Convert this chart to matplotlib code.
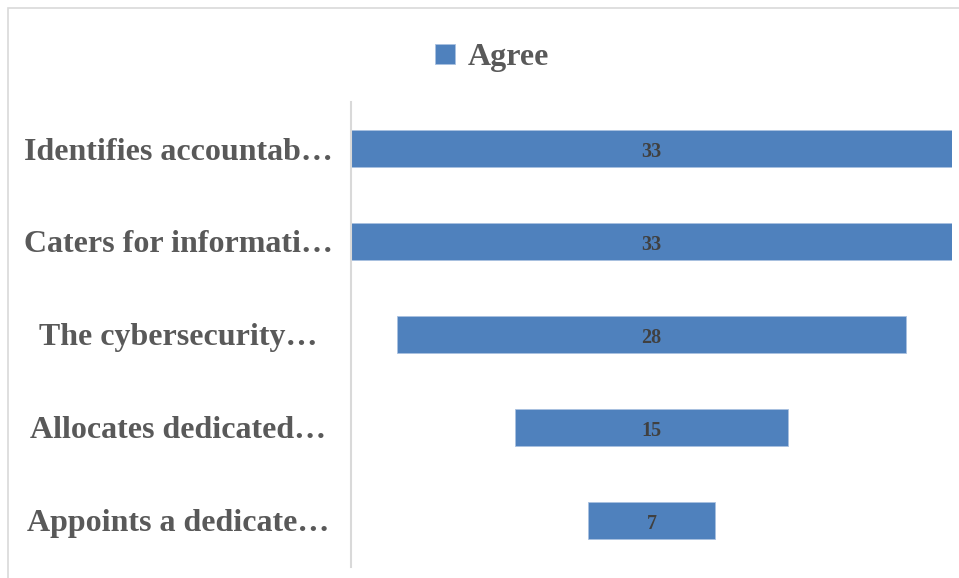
import numpy as np
import matplotlib.pyplot as plt
from matplotlib.patches import Rectangle

categories = [
    'Identifies accountab…',
    'Caters for informati…',
    'The cybersecurity…',
    'Allocates dedicated…',
    'Appoints a dedicate…',
]
agree = [33, 33, 28, 15, 7]
series_name = 'Agree'

plt.rcParams['font.family'] = ['Liberation Serif', 'DejaVu Serif']
plt.rcParams['font.weight'] = 'bold'

fig = plt.figure(figsize=(9.59, 5.78), dpi=100)
ax = fig.add_axes([351 / 959, 1 - 567 / 578, 601 / 959, 465 / 578])

y = np.arange(len(categories))
vmax = max(agree)
lefts = [(vmax - v) / 2 for v in agree]
bars = ax.barh(y, agree, left=lefts, height=0.39, color='#4f81bd',
               edgecolor='#a9c1e0', linewidth=0.6, label=series_name)

for b, v in zip(bars, agree):
    ax.text(b.get_x() + b.get_width() / 2, b.get_y() + b.get_height() / 2 + 0.035, str(v),
            ha='center', va='center', fontsize=14.5, fontweight='bold', color='#404040')

ax.set_xlim(0, vmax)
ax.set_ylim(len(categories) - 0.5, -0.5)
ax.set_yticks(y)
ax.set_yticklabels(categories, fontsize=23, fontweight='bold', color='#595959', ha='center')
ax.tick_params(axis='y', length=0, pad=124.5)
ax.set_xticks([])
for side in ['top', 'right', 'bottom']:
    ax.spines[side].set_visible(False)
ax.spines['left'].set_color('#d9d9d9')
ax.spines['left'].set_linewidth(1.5)

# outer chart frame
fig.patches.append(Rectangle((8 / 959, -0.1), 1.2, 1 - 8 / 578 + 0.1,
                             transform=fig.transFigure, fill=False,
                             edgecolor='#d9d9d9', linewidth=1.2))

leg = fig.legend(handles=[bars], labels=[series_name], loc='center',
                 bbox_to_anchor=(492 / 959, 1 - 58 / 578), frameon=False,
                 handlelength=0.6, handleheight=0.6, handletextpad=0.4,
                 prop={'size': 23, 'weight': 'bold'})
for t in leg.get_texts():
    t.set_color('#595959')

fig.savefig('out.png', dpi=100)
